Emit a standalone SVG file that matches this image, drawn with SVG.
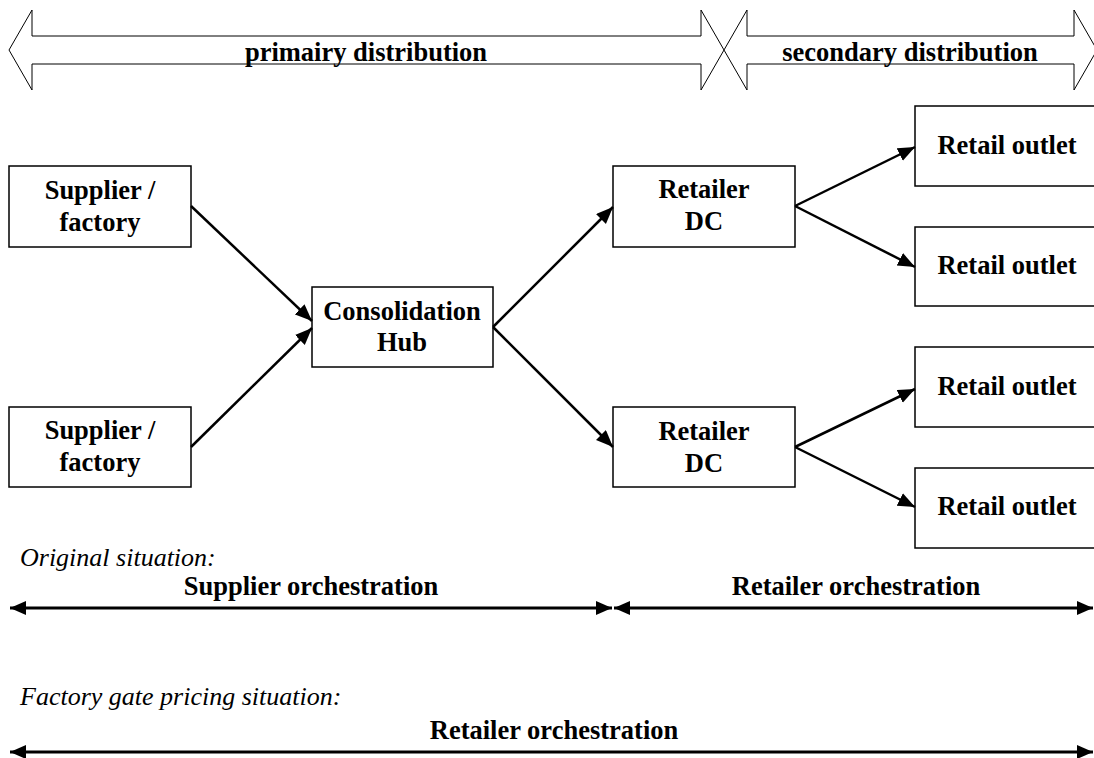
<svg xmlns="http://www.w3.org/2000/svg" width="1094" height="758" viewBox="0 0 1094 758">
  <style>
    .box { fill: #ffffff; stroke: #000000; stroke-width: 1.5; }
    .band { fill: #ffffff; stroke: #000000; stroke-width: 1; }
    .lbl { font-family: "Liberation Serif", "Times New Roman", serif; font-size: 26.5px; font-weight: bold; fill: #000000; text-anchor: middle; }
    .note { font-family: "Liberation Serif", "Times New Roman", serif; font-size: 26px; font-style: italic; fill: #000000; }
    .flow { stroke: #000000; stroke-width: 2.5; fill: none; marker-end: url(#head); }
    .span { stroke: #000000; stroke-width: 3; fill: none; marker-start: url(#spanHead); marker-end: url(#spanHead); }
  </style>
  <defs>
    <marker id="head" markerUnits="userSpaceOnUse" markerWidth="18" markerHeight="15" refX="17" refY="7" orient="auto">
      <path d="M0,0 L17,7 L0,14 z" fill="#000000"/>
    </marker>
    <marker id="spanHead" markerUnits="userSpaceOnUse" markerWidth="17" markerHeight="15" refX="16" refY="7" orient="auto-start-reverse">
      <path d="M0,0 L16,7 L0,14 z" fill="#000000"/>
    </marker>
  </defs>

  <rect width="1094" height="758" fill="#ffffff"/>

  <!-- distribution bands -->
  <g id="band-primary">
    <polygon class="band" points="9,50 32,10 32,36 701,36 701,10 724,50 701,90 701,64 32,64 32,90"/>
    <text class="lbl" x="366" y="61">primairy distribution</text>
  </g>
  <g id="band-secondary">
    <polygon class="band" points="724,50 747,10 747,36 1074,36 1074,10 1097,50 1074,90 1074,64 747,64 747,90"/>
    <text class="lbl" x="910" y="61">secondary distribution</text>
  </g>

  <!-- nodes -->
  <g id="supplier-1">
    <rect class="box" x="9" y="166" width="182" height="81"/>
    <text class="lbl" x="100" y="199">Supplier /</text>
    <text class="lbl" x="100" y="231">factory</text>
  </g>
  <g id="supplier-2">
    <rect class="box" x="9" y="407" width="182" height="80"/>
    <text class="lbl" x="100" y="439">Supplier /</text>
    <text class="lbl" x="100" y="471">factory</text>
  </g>
  <g id="hub">
    <rect class="box" x="312" y="287" width="181" height="80"/>
    <text class="lbl" x="402" y="320">Consolidation</text>
    <text class="lbl" x="402" y="351">Hub</text>
  </g>
  <g id="dc-1">
    <rect class="box" x="613" y="166" width="182" height="81"/>
    <text class="lbl" x="704" y="198">Retailer</text>
    <text class="lbl" x="704" y="230">DC</text>
  </g>
  <g id="dc-2">
    <rect class="box" x="613" y="407" width="182" height="80"/>
    <text class="lbl" x="704" y="440">Retailer</text>
    <text class="lbl" x="704" y="472">DC</text>
  </g>
  <g id="outlet-1">
    <rect class="box" x="915" y="106" width="184" height="80"/>
    <text class="lbl" x="1007" y="154">Retail outlet</text>
  </g>
  <g id="outlet-2">
    <rect class="box" x="915" y="227" width="184" height="79"/>
    <text class="lbl" x="1007" y="274">Retail outlet</text>
  </g>
  <g id="outlet-3">
    <rect class="box" x="915" y="347" width="184" height="80"/>
    <text class="lbl" x="1007" y="395">Retail outlet</text>
  </g>
  <g id="outlet-4">
    <rect class="box" x="915" y="468" width="184" height="80"/>
    <text class="lbl" x="1007" y="515">Retail outlet</text>
  </g>

  <!-- flows -->
  <g id="connectors">
    <line class="flow" x1="191" y1="206" x2="312" y2="321"/>
    <line class="flow" x1="191" y1="447" x2="312" y2="328"/>
    <line class="flow" x1="493" y1="327" x2="613" y2="207"/>
    <line class="flow" x1="493" y1="327" x2="613" y2="447"/>
    <line class="flow" x1="795" y1="206" x2="915" y2="147"/>
    <line class="flow" x1="795" y1="206" x2="915" y2="267"/>
    <line class="flow" x1="795" y1="447" x2="915" y2="389"/>
    <line class="flow" x1="795" y1="447" x2="915" y2="507"/>
  </g>

  <!-- orchestration spans -->
  <g id="original-situation">
    <text class="note" x="20" y="566">Original situation:</text>
    <text class="lbl" x="311" y="595">Supplier orchestration</text>
    <text class="lbl" x="856" y="595">Retailer orchestration</text>
    <line class="span" x1="10" y1="608" x2="612" y2="608"/>
    <line class="span" x1="614" y1="608" x2="1093" y2="608"/>
  </g>
  <g id="fgp-situation">
    <text class="note" x="20" y="705">Factory gate pricing situation:</text>
    <text class="lbl" x="554" y="739">Retailer orchestration</text>
    <line class="span" x1="10" y1="752" x2="1093" y2="752"/>
  </g>
</svg>
